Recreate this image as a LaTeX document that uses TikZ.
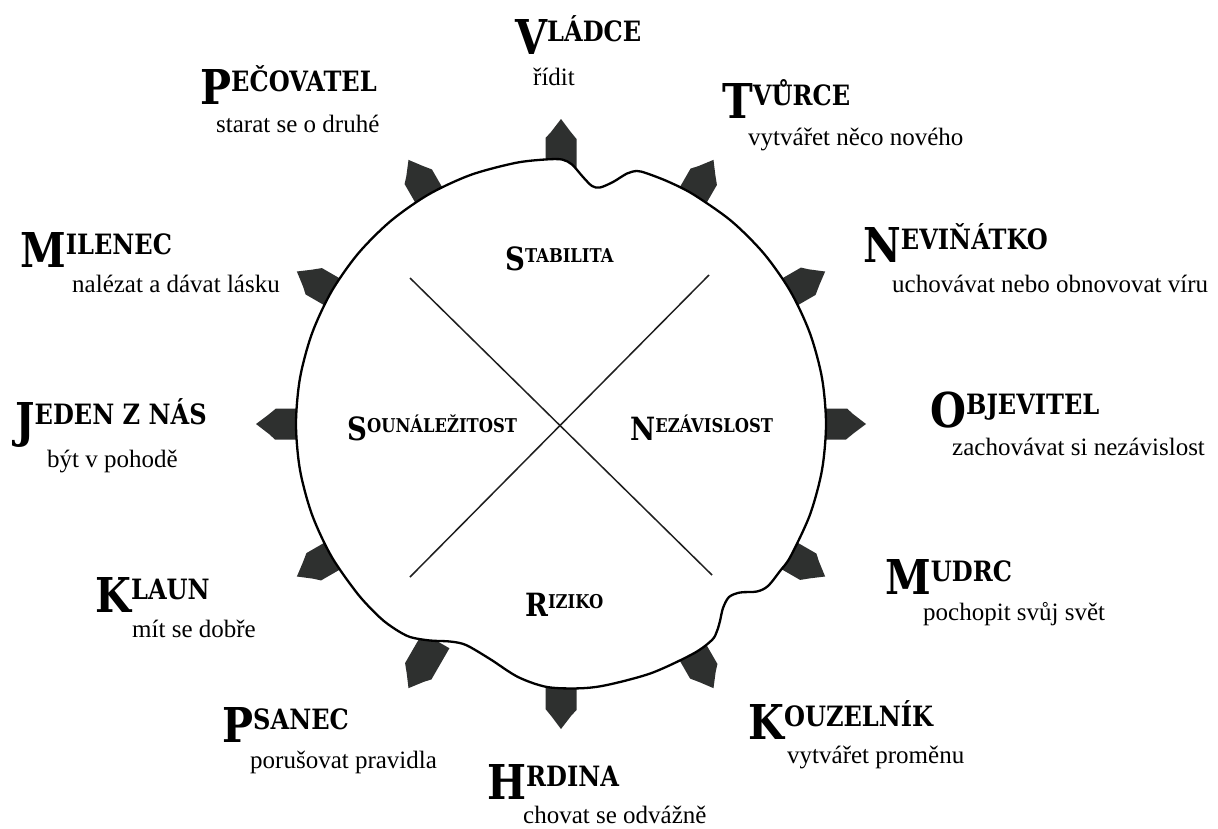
\documentclass[tikz,border=0pt]{standalone}
\usepackage{fontspec}
\setmainfont{Liberation Serif}
\newfontfamily\headfont[FakeStretch=0.86]{DejaVu Serif}
\definecolor{leafc}{RGB}{46,48,47}
\newcommand{\ArchBig}[1]{\raisebox{-13pt}{\fontsize{48}{48}\selectfont #1}}
\newcommand{\ArchSmall}[1]{\raisebox{-8pt}{\fontsize{32}{32}\selectfont #1}}
\begin{document}
\begin{tikzpicture}[x=1pt,y=-1pt,
  head/.style={font=\headfont\bfseries\fontsize{28}{28}\selectfont, inner sep=0pt, anchor=base west},
  desc/.style={font=\fontsize{25}{25}\selectfont, inner sep=0pt, anchor=base west},
  inlab/.style={font=\headfont\bfseries\fontsize{19}{19}\selectfont, inner sep=0pt, anchor=base west},
  leaf/.style={fill=leafc},
  rim/.style={draw=black, fill=white, line width=2.3pt, line join=round},
  axisline/.style={draw=black!88, line width=1.5pt}]
\useasboundingbox (0,0) rectangle (1218,828);
% leaves
\foreach \a in {90,60,30,0,-30,-60,-90,-120,-150,180,150,120}{
  \fill[leaf, shift={(561,424)}, rotate=\a]
    (250,-15.5) -- (286,-15.5) -- (292,-10) -- (305,0) -- (293,9) -- (285,15.5) -- (250,15.5) -- cycle;
}
% wobbly circle
\draw[rim] plot[smooth cycle, tension=0.5] coordinates {
 (826,424) (822.0,378.0) (810.0,333.4) (790.5,291.5) (764.0,253.7) (731.3,221.0)
 (693.5,194.5) (668.8,181.9) (647,173.4) (637,171) (627,173.5) (613,182) (600,187.5)
 (592,186) (583,177) (572,164.5) (562,159.5) (545,159.5) (515.0,163.0) (470.4,175.0)
 (428.5,194.5) (390.7,221.0) (358.0,253.7) (331.5,291.5) (312.0,333.4) (300.0,378.0)
 (296,424) (300.0,470.0) (312.0,514.6) (331.5,556.5) (358.0,594.3) (380,617.6)
 (395,629) (410,637) (430,640.5) (450,641.5) (466,645) (490,659) (518,677) (547,687)
 (580,688.3) (607,685) (651.6,673) (693.5,653.5) (712,640) (717,631) (720,621)
 (723,608) (729,597) (740,592.5) (757,591.5) (768,586) (780,571) (790.5,556.5)
 (810.0,514.6) (822.0,470.0)};
% cross
\coordinate (xa) at (410,278);
\coordinate (xb) at (712,575);
\coordinate (xc) at (709,275);
\coordinate (xd) at (410,577);
\draw[axisline] (xa) -- (xb);
\draw[axisline] (xc) -- (xd);
% inner labels
\node[inlab] (stab) at (505,262) {\ArchSmall{S}TABILITA};
\node[inlab] (soun) at (347,432) {\ArchSmall{S}OUNÁLEŽITOST};
\node[inlab] (nez) at (630,432) {\ArchSmall{N}EZÁVISLOST};
\node[inlab] (riz) at (525,608) {\ArchSmall{R}IZIKO};
% outer labels
\node[head] (h1) at (515,41) {\ArchBig{V}LÁDCE};
\node[desc] (d1) at (533,85) {řídit};
\node[head] (h2) at (722,105) {\ArchBig{T}VŮRCE};
\node[desc] (d2) at (748,145) {vytvářet něco nového};
\node[head] (h3) at (863,249) {\ArchBig{N}EVIŇÁTKO};
\node[desc] (d3) at (892,292) {uchovávat nebo obnovovat víru};
\node[head] (h4) at (930,414) {\ArchBig{O}BJEVITEL};
\node[desc] (d4) at (952,455) {zachovávat si nezávislost};
\node[head] (h5) at (885,581) {\ArchBig{M}UDRC};
\node[desc] (d5) at (923,620) {pochopit svůj svět};
\node[head] (h6) at (748,726) {\ArchBig{K}OUZELNÍK};
\node[desc] (d6) at (787,763) {vytvářet proměnu};
\node[head] (h7) at (487,786) {\ArchBig{H}RDINA};
\node[desc] (d7) at (523,823) {chovat se odvážně};
\node[head] (h8) at (222,729) {\ArchBig{P}SANEC};
\node[desc] (d8) at (250,768) {porušovat pravidla};
\node[head] (h9) at (95,599) {\ArchBig{K}LAUN};
\node[desc] (d9) at (132,637) {mít se dobře};
\node[head] (h10) at (15,424) {\ArchBig{J}EDEN Z NÁS};
\node[desc] (d10) at (47,467) {být v pohodě};
\node[head] (h11) at (20,254) {\ArchBig{M}ILENEC};
\node[desc] (d11) at (72,292) {nalézat a dávat lásku};
\node[head] (h12) at (200,91) {\ArchBig{P}EČOVATEL};
\node[desc] (d12) at (216,132) {starat se o druhé};
\end{tikzpicture}
\end{document}
